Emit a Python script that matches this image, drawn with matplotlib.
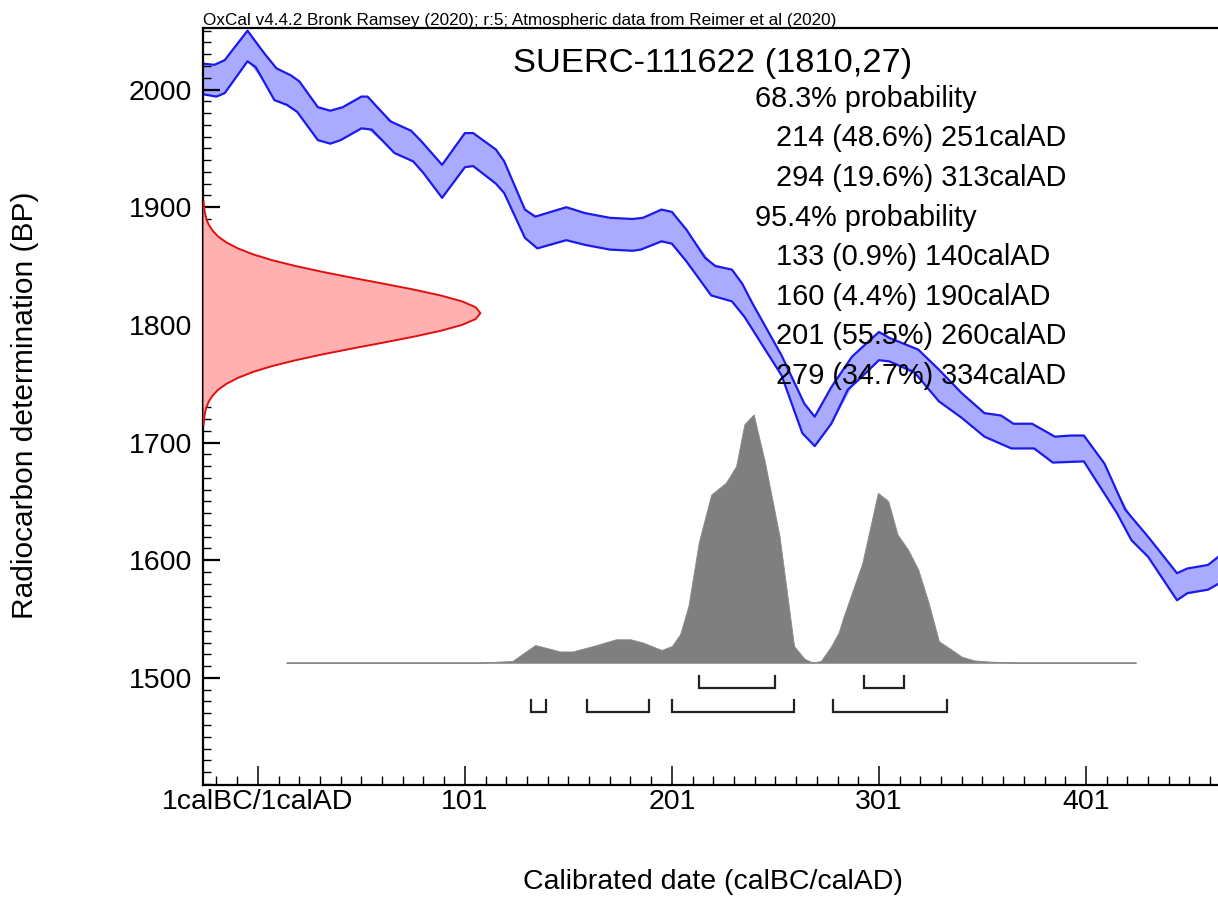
import numpy as np
import matplotlib
matplotlib.use("Agg")
import matplotlib.pyplot as plt
from matplotlib.ticker import MultipleLocator, FixedLocator

# 样品信息
sample_name = "SUERC-111622"
c14_age = 1810
c14_err = 27
header = "OxCal v4.4.2 Bronk Ramsey (2020); r:5; Atmospheric data from Reimer et al (2020)"

# 校正曲线 (IntCal20) 上沿 / 下沿, calAD 年 vs BP
cal_year_upper = [-25.5, -20, -15, -4, 4, 10, 17, 21, 30, 36, 42, 51, 54, 65, 75, 80, 90,
                  101, 105, 116, 120, 130, 135, 150, 159, 171, 182, 187, 196, 201, 208, 217,
                  222, 230, 235, 240, 254, 265, 270, 278, 288, 301, 306, 320, 330, 341, 352,
                  360, 366, 375, 386, 394, 400, 410, 420, 431, 445, 450, 460, 465]
cal_bp_upper = [2022, 2021, 2025, 2050, 2031, 2018, 2012, 2007, 1985, 1982, 1985, 1994, 1994,
                1973, 1965, 1956, 1936, 1963, 1963, 1949, 1939, 1898, 1892, 1900, 1895, 1891,
                1890, 1891, 1898, 1896, 1881, 1857, 1850, 1847, 1835, 1818, 1774, 1733, 1722,
                1747, 1773, 1794, 1789, 1779, 1762, 1742, 1725, 1723, 1716, 1716, 1705, 1706,
                1706, 1682, 1643, 1620, 1589, 1593, 1596, 1603]
cal_year_lower = [-25.5, -19, -15, -4, 0, 9, 15, 20, 30, 36, 41, 51, 56, 67, 76, 81, 90,
                  101, 105, 116, 120, 130, 136, 150, 159, 171, 182, 186, 196, 201, 208, 220,
                  230, 236, 254, 264, 270, 278, 286, 291, 301, 306, 318, 330, 341, 352, 365,
                  376, 385, 400, 416, 423, 431, 445, 450, 460, 465]
cal_bp_lower = [1996, 1994, 1997, 2024, 2019, 1991, 1987, 1981, 1957, 1954, 1957, 1967, 1966,
                1946, 1939, 1929, 1908, 1934, 1935, 1920, 1912, 1874, 1865, 1872, 1868, 1864,
                1863, 1864, 1871, 1869, 1854, 1825, 1820, 1807, 1757, 1708, 1697, 1716, 1745,
                1753, 1770, 1769, 1760, 1735, 1721, 1705, 1695, 1695, 1683, 1684, 1640, 1617,
                1603, 1566, 1572, 1575, 1580]

# 放射性碳测定值分布 (红色), BP 与相对高度
r_bp = [1905, 1900, 1895, 1890, 1885, 1880, 1875, 1870, 1865, 1860, 1855, 1850, 1845, 1840,
        1835, 1830, 1825, 1820, 1815, 1810, 1805, 1800, 1795, 1790, 1785, 1780, 1775, 1770,
        1765, 1760, 1755, 1750, 1745, 1740, 1735, 1730, 1725, 1720, 1715]
r_dens = [0.002, 0.004, 0.007, 0.012, 0.021, 0.035, 0.055, 0.085, 0.126, 0.180, 0.249, 0.334,
          0.432, 0.539, 0.651, 0.760, 0.857, 0.934, 0.983, 1.000, 0.983, 0.934, 0.857, 0.760,
          0.651, 0.539, 0.432, 0.334, 0.249, 0.180, 0.126, 0.085, 0.055, 0.035, 0.021, 0.012,
          0.007, 0.004, 0.002]

# 校正后年代分布 (灰色), calAD 与相对高度
g_year = [15, 108, 124, 135, 147, 153, 163, 174, 181, 187, 196, 201, 205, 209, 214, 220, 227,
          232, 236, 240.5, 246, 253, 260, 265, 269, 273, 278, 281.5, 284, 293, 300.5, 305.5,
          310, 315, 320, 325, 330, 336, 341, 347, 355, 368, 425]
g_dens = [0.0, 0.0, 0.007, 0.071, 0.045, 0.045, 0.067, 0.094, 0.094, 0.081, 0.051, 0.067,
          0.115, 0.229, 0.485, 0.677, 0.724, 0.791, 0.960, 1.000, 0.805, 0.509, 0.067, 0.016,
          0.0, 0.007, 0.067, 0.121, 0.187, 0.402, 0.684, 0.651, 0.516, 0.456, 0.375, 0.241,
          0.086, 0.053, 0.024, 0.009, 0.004, 0.0, 0.0]

# 概率区间
ranges_68 = [(214, 251), (294, 313)]
pct_68 = [48.6, 19.6]
ranges_95 = [(133, 140), (160, 190), (201, 260), (279, 334)]
pct_95 = [0.9, 4.4, 55.5, 34.7]

plt.rcParams['font.family'] = ['Liberation Sans', 'DejaVu Sans']

fig = plt.figure(figsize=(12.18, 8.97), dpi=100)
ax = fig.add_axes([203 / 1218, 1 - 785 / 897, 1 - 203 / 1218, (785 - 28) / 897])

xmin, xmax = -25.5, 464.8
ax.set_xlim(xmin, xmax)
ax.set_ylim(1409, 2052.3)

# 校正曲线
ax.fill_between(cal_year_upper, cal_bp_upper,
                np.interp(cal_year_upper, cal_year_lower, cal_bp_lower),
                color='#aaaaff', lw=0, zorder=1)
ax.fill_between(cal_year_lower, cal_bp_lower,
                np.interp(cal_year_lower, cal_year_upper, cal_bp_upper),
                color='#aaaaff', lw=0, zorder=1)
ax.plot(cal_year_upper, cal_bp_upper, color='#1a1aee', lw=1.6, zorder=2)
ax.plot(cal_year_lower, cal_bp_lower, color='#1a1aee', lw=1.6, zorder=2)

# 测定值分布, 贴在左轴
red_w = 134
ax.fill_betweenx(r_bp, xmin, xmin + red_w * np.array(r_dens), color='#ffb0b0', lw=0, zorder=3)
ax.plot(xmin + red_w * np.array(r_dens), r_bp, color='#e01010', lw=1.4, zorder=4)

# 校正后分布
g_base = 1513
g_h = 211
ax.plot([g_year[0], g_year[-1]], [g_base, g_base], color='#b0b0b0', lw=1.2, zorder=3)
ax.fill_between(g_year, g_base, g_base + g_h * np.array(g_dens), color='#7f7f7f', lw=0.6,
                edgecolor='#8a8a8a', zorder=4)

# 区间括号
def bracket(a, b, top, bot):
    ax.plot([a, a, b, b], [top, bot, bot, top], color='#222222', lw=1.6, zorder=5,
            solid_joinstyle='miter')

for a, b in ranges_68:
    bracket(a, b, 1501.5, 1491.3)
for a, b in ranges_95:
    bracket(a, b, 1481, 1471.4)

# 坐标轴样式
for s in ['left', 'bottom', 'top']:
    ax.spines[s].set_linewidth(1.6)
ax.spines['right'].set_visible(False)

ax.xaxis.set_major_locator(FixedLocator([1, 101, 201, 301, 401]))
ax.set_xticklabels(['1calBC/1calAD', '101', '201', '301', '401'])
ax.xaxis.set_minor_locator(FixedLocator(np.arange(-19, 465, 10)))
ax.yaxis.set_major_locator(MultipleLocator(100))
ax.yaxis.set_minor_locator(MultipleLocator(10))
ax.tick_params(axis='x', which='major', direction='in', length=13.5, width=1.1,
               labelsize=20.5, pad=3)
ax.tick_params(axis='x', which='minor', direction='in', length=6.5, width=1.0)
ax.tick_params(axis='y', which='major', direction='in', length=12, width=1.6,
               labelsize=20.5, pad=8)
ax.tick_params(axis='y', which='minor', direction='in', length=5.5, width=1.0)

# 文字
fig.text(203 / 1218, 1 - 25 / 897, header, fontsize=12.3, va='baseline', ha='left',
         family=['Liberation Sans Narrow', 'Liberation Sans'])
fig.text(713 / 1218, 1 - 72 / 897, f"{sample_name} ({c14_age},{c14_err})", fontsize=24.8,
         ha='center', va='baseline')

lines = [("68.3% probability", 755)]
for (a, b), p in zip(ranges_68, pct_68):
    lines.append((f"{a} ({p}%) {b}calAD", 776))
lines.append(("95.4% probability", 755))
for (a, b), p in zip(ranges_95, pct_95):
    lines.append((f"{a} ({p}%) {b}calAD", 776))
for i, (txt, xp) in enumerate(lines):
    fig.text(xp / 1218, 1 - (106.7 + 39.6 * i) / 897, txt, fontsize=20.8,
             ha='left', va='baseline', zorder=10)

fig.text(713 / 1218, 1 - 889 / 897, "Calibrated date (calBC/calAD)", fontsize=20.5,
         ha='center', va='baseline')
fig.text(25 / 1218, 1 - 405 / 897, "Radiocarbon determination (BP)", fontsize=21.5,
         ha='center', va='center', rotation=90)

plt.savefig('out.png', dpi=100)
